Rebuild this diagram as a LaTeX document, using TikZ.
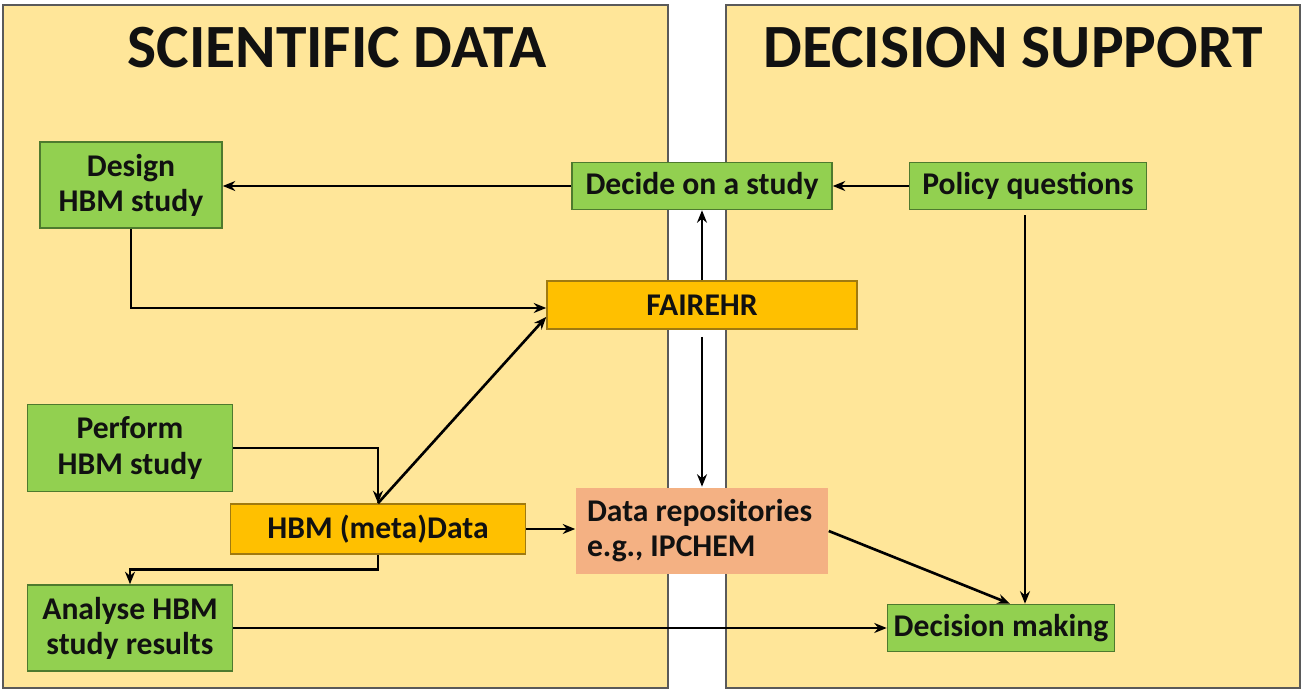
\documentclass[tikz,border=0pt]{standalone}
\usepackage{fontspec}
\setmainfont{Carlito}
\usetikzlibrary{arrows.meta, positioning}
\definecolor{PanelYellow}{HTML}{FFE699}
\definecolor{PanelEdge}{HTML}{5A5A5A}
\definecolor{BoxGreen}{HTML}{92D050}
\definecolor{GreenEdge}{HTML}{4E7A2E}
\definecolor{BoxOrange}{HTML}{FFC000}
\definecolor{OrangeEdge}{HTML}{A07A10}
\definecolor{BoxSalmon}{HTML}{F4B183}
\definecolor{Black90}{HTML}{111111}

\begin{document}
\begin{tikzpicture}[x=0.02cm, y=-0.02cm,
          panel/.style={draw=PanelEdge, fill=PanelYellow, line width=0.8pt},
          ptitle/.style={font=\fontsize{35}{40}\selectfont\bfseries, text=Black90},
          gbox/.style={rectangle, draw=GreenEdge, fill=BoxGreen, line width=0.9pt, align=center,
                        inner sep=2pt, font=\fontsize{18}{20}\selectfont\bfseries, text=Black90},
          obox/.style={gbox, draw=OrangeEdge, fill=BoxOrange},
          rbox/.style={gbox, draw=none, fill=BoxSalmon, align=flush left, inner xsep=0.22cm,
                        text width=4.6cm},
          arr/.style={-{Stealth[length=2.5mm, width=2mm]}, line width=1.5pt, color=black}
        ]
          \useasboundingbox (0,0) rectangle (1306,695);
          % two panels
          \draw[panel] (3,5) rectangle (668,688);
          \draw[panel] (726,5) rectangle (1300,688);
          \node[ptitle] (scititle) at (337,48) {SCIENTIFIC DATA};
          \node[ptitle] (dectitle) at (1013,48) {DECISION SUPPORT};
          % boxes
          \node[gbox, minimum width=3.64cm, minimum height=1.72cm] (design) at (131,185) {Design\\HBM study};
          \node[gbox, minimum width=5.2cm, minimum height=0.94cm] (decide) at (702,186) {Decide on a study};
          \node[gbox, minimum width=4.74cm, minimum height=0.94cm] (policy) at (1028,186) {Policy questions};
          \node[obox, minimum width=6.2cm, minimum height=0.96cm] (fair) at (702,305) {FAIREHR};
          \node[gbox, minimum width=4.1cm, minimum height=1.74cm] (perform) at (130,448) {Perform\\HBM study};
          \node[obox, minimum width=5.9cm, minimum height=1.0cm] (hbm) at (378,529) {HBM (meta)Data};
          \node[rbox, minimum height=1.74cm] (repos) at (702,531) {\frenchspacing Data repositories\\e.g., IPCHEM};
          \node[gbox, minimum width=4.1cm, minimum height=1.72cm] (analyse) at (130,628) {Analyse HBM\\study results};
          \node[gbox, minimum width=4.54cm, minimum height=0.94cm] (decision) at (1001,628) {Decision making};
          % connectors
          \draw[arr] (decide.west) -- (decide.west -| design.east);
          \draw[arr] (policy.west) -- (decide.east);
          \draw[arr] (fair.north) -- (decide.south);
          \draw[arr] ([yshift=-0.14cm]fair.south) -- (repos.north);
          \draw[arr] (design.south) |- ([yshift=-0.06cm]fair.west);
          \draw[arr] (hbm.north) -- ([yshift=-0.24cm]fair.west);
          \draw[arr] (perform.east) -| (hbm.north);
          \draw[arr] (hbm.south) -- ++(0,15) -| (analyse.north);
          \draw[arr] (hbm.east) -- (hbm.east -| repos.west);
          \draw[arr] (repos.east) -- ([xshift=0.18cm]decision.north);
          \draw[arr] ([xshift=-0.06cm, yshift=-0.1cm]policy.south) -- ([xshift=-0.06cm]policy.south |- decision.north);
          \draw[arr] (analyse.east) -- (analyse.east -| decision.west);
        \end{tikzpicture}
\end{document}
